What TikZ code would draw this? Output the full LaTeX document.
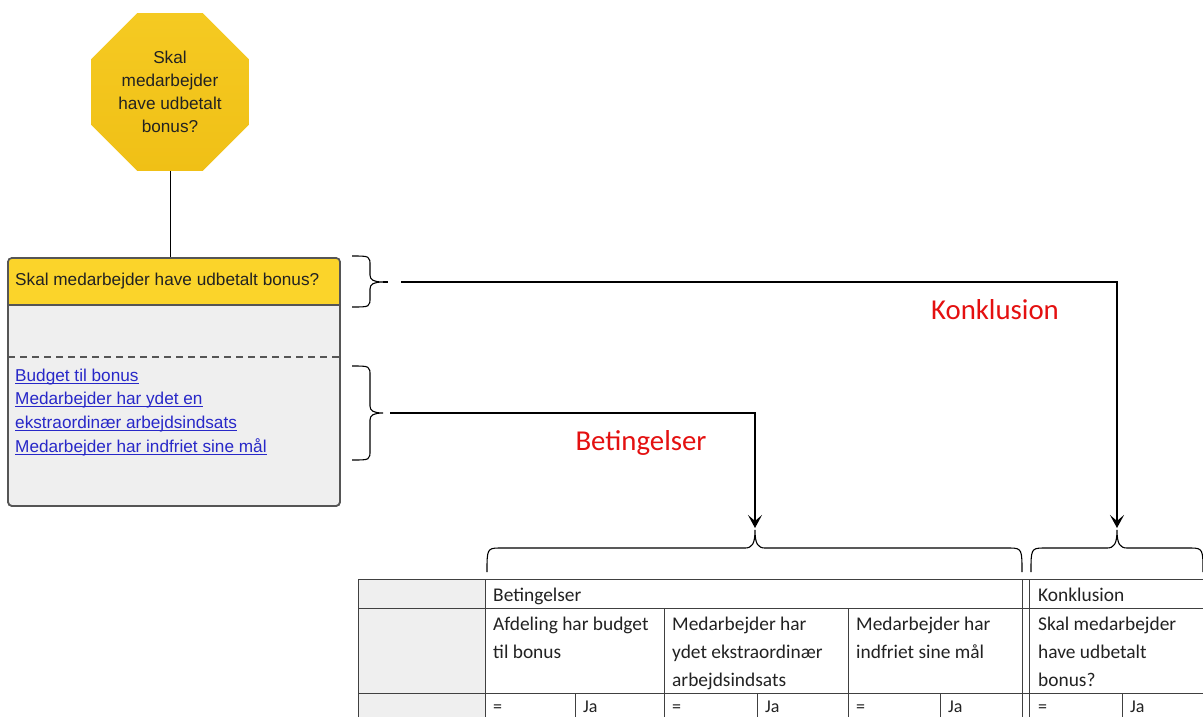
\documentclass[tikz,border=0pt]{standalone}
\usepackage{fontspec}
\setmainfont{Carlito}
\newfontfamily\arialf{Liberation Sans}
\usetikzlibrary{shapes.geometric,arrows.meta}
\definecolor{octyellow}{RGB}{240,192,22}
\definecolor{octlight}{RGB}{245,202,34}
\definecolor{hdryellow}{RGB}{251,212,42}
\definecolor{boxgray}{RGB}{239,239,239}
\definecolor{boxborder}{RGB}{85,85,85}
\definecolor{linkblue}{RGB}{40,40,200}
\definecolor{labelred}{RGB}{228,16,16}
\definecolor{tabline}{RGB}{64,64,64}
\definecolor{tabfill}{RGB}{239,239,239}
\definecolor{txtdark}{RGB}{34,34,34}
\begin{document}
\begin{tikzpicture}[x=1pt,y=-1pt,
  arialtext/.style={font=\arialf\fontsize{17.2}{23}\selectfont, text=txtdark},
  linktext/.style={font=\arialf\fontsize{17.2}{23}\selectfont, text=linkblue, anchor=base west, inner sep=0pt},
  ulstyle/.style={draw=linkblue, line width=0.9pt},
  tabtext/.style={font=\fontsize{19.4}{28}\selectfont, text=txtdark, inner sep=0pt},
  smalltab/.style={font=\fontsize{18}{20}\selectfont, text=txtdark, inner sep=0pt},
  redlabel/.style={font=\fontsize{28.8}{32}\selectfont, text=labelred},
  thinline/.style={draw=black, line width=1pt},
  bracestyle/.style={draw=black, line width=1.1pt},
  bigarrow/.style={draw=black, line width=2.8pt, -{Stealth[length=13pt,width=14pt,inset=6pt]}},
  tline/.style={draw=tabline, line width=1pt}
]
\useasboundingbox (0,0) rectangle (1203,716);
\clip (0,0) rectangle (1203,716);
\fill[white] (0,0) rectangle (1203,716);

% octagon
\node[regular polygon, regular polygon sides=8, minimum size=171pt, inner sep=0pt,
      top color=octlight, bottom color=octyellow, align=center, arialtext] (oct) at (170,92)
  {Skal\\medarbejder\\have udbetalt\\bonus?};

% box
\node[draw=boxborder, line width=1.6pt, rounded corners=4pt, fill=boxgray,
      minimum width=332pt, minimum height=248pt, inner sep=0pt] (box) at (174,382) {};
\begin{scope}
  \clip[rounded corners=4pt] (8,258) rectangle (340,506);
  \fill[hdryellow] (8,258) rectangle (340,305);
\end{scope}
\draw[draw=boxborder, line width=1.6pt, rounded corners=4pt] (8,258) rectangle (340,506);
\draw[draw=boxborder, line width=1.3pt] (8,305) -- (340,305);
\draw[draw=boxborder, line width=1.3pt, dash pattern=on 7pt off 5pt] (8,357) -- (340,357);

\node[arialtext, anchor=west, inner sep=0pt] (hdr) at (15,281) {Skal medarbejder have udbetalt bonus?};
\node[linktext] (l1) at (15,381) {Budget til bonus};
\node[linktext] (l2) at (15,404) {Medarbejder har ydet en};
\node[linktext] (l3) at (15,428) {ekstraordinær arbejdsindsats};
\node[linktext] (l4) at (15,452) {Medarbejder har indfriet sine mål};
\foreach \n in {l1,l2,l3,l4}
  \draw[ulstyle] ([yshift=-2.5pt]\n.base west) -- ([yshift=-2.5pt]\n.base east);

\draw[thinline] (oct.south) -- (oct.south |- box.north);

% left braces
\draw[bracestyle] (352,256) .. controls (370,256) and (370,256) .. (370,266) -- (370,275)
   .. controls (370,280) and (374,282) .. (383,282)
   .. controls (374,282) and (370,284) .. (370,289) -- (370,297)
   .. controls (370,307) and (370,307) .. (352,307);
\draw[bracestyle] (352,366) .. controls (370,366) and (370,366) .. (370,376) -- (370,406)
   .. controls (370,411) and (374,413) .. (383,413)
   .. controls (374,413) and (370,415) .. (370,420) -- (370,450)
   .. controls (370,460) and (370,460) .. (352,460);
\coordinate (ktip) at (383,282);
\coordinate (btip) at (383,413);
\draw[line width=1.1pt] (ktip) -- ++(5,0);
\coordinate (kstart) at (401,282);
\coordinate (bstart) at (390,413);

% bottom braces
\draw[bracestyle] (487,572) .. controls (487,550) and (487,548) .. (499,548) -- (745,548)
   .. controls (752,548) and (755,544) .. (755,530)
   .. controls (755,544) and (758,548) .. (765,548) -- (1010,548)
   .. controls (1022,548) and (1022,550) .. (1022,572);
\draw[bracestyle] (1031,572) .. controls (1031,550) and (1031,548) .. (1043,548) -- (1107,548)
   .. controls (1114,548) and (1117,544) .. (1117,530)
   .. controls (1117,544) and (1120,548) .. (1127,548) -- (1191,548)
   .. controls (1203,548) and (1203,550) .. (1203,572);
\coordinate (bend) at (755,528);
\coordinate (kend) at (1117,528);

% arrows
\draw[bigarrow] (kstart) -| (kend);
\draw[bigarrow] (bstart) -| (bend);

\node[redlabel] (klabel) at (995,310) {Konklusion};
\node[redlabel] (blabel) at (641,443) {Betingelser};

% table
\fill[tabfill] (358,579) rectangle (485,730);
\draw[tline] (358,579) -- (1210,579);
\draw[tline] (358,608) -- (1210,608);
\draw[tline] (358,693) -- (1210,693);
\draw[tline] (358,579) -- (358,730);
\draw[tline] (485,579) -- (485,730);
\draw[tline] (664,608) -- (664,730);
\draw[tline] (848,608) -- (848,730);
\draw[tline] (1022,579) -- (1022,730);
\draw[tline] (1029,579) -- (1029,730);
\draw[tline] (575,693) -- (575,730);
\draw[tline] (757,693) -- (757,730);
\draw[tline] (940,693) -- (940,730);
\draw[tline] (1122,693) -- (1122,730);

\node[tabtext, anchor=base west] (tb) at (493,601) {Betingelser};
\node[tabtext, anchor=base west] (tk) at (1038,601) {Konklusion};
\node[tabtext, anchor=north west, align=left] (c1) at (493,616.5) {Afdeling har budget\\til bonus};
\node[tabtext, anchor=north west, align=left] (c2) at (672,616.5) {Medarbejder har\\ydet ekstraordinær\\arbejdsindsats};
\node[tabtext, anchor=north west, align=left] (c3) at (856,616.5) {Medarbejder har\\indfriet sine mål};
\node[tabtext, anchor=north west, align=left] (c4) at (1038,616.5) {Skal medarbejder\\have udbetalt\\bonus?};
\node[smalltab, anchor=base west] (e1) at (493,712) {=};
\node[smalltab, anchor=base west] (j1) at (583,712) {Ja};
\node[smalltab, anchor=base west] (e2) at (672,712) {=};
\node[smalltab, anchor=base west] (j2) at (765,712) {Ja};
\node[smalltab, anchor=base west] (e3) at (856,712) {=};
\node[smalltab, anchor=base west] (j3) at (948,712) {Ja};
\node[smalltab, anchor=base west] (e4) at (1038,712) {=};
\node[smalltab, anchor=base west] (j4) at (1130,712) {Ja};
\end{tikzpicture}
\end{document}
